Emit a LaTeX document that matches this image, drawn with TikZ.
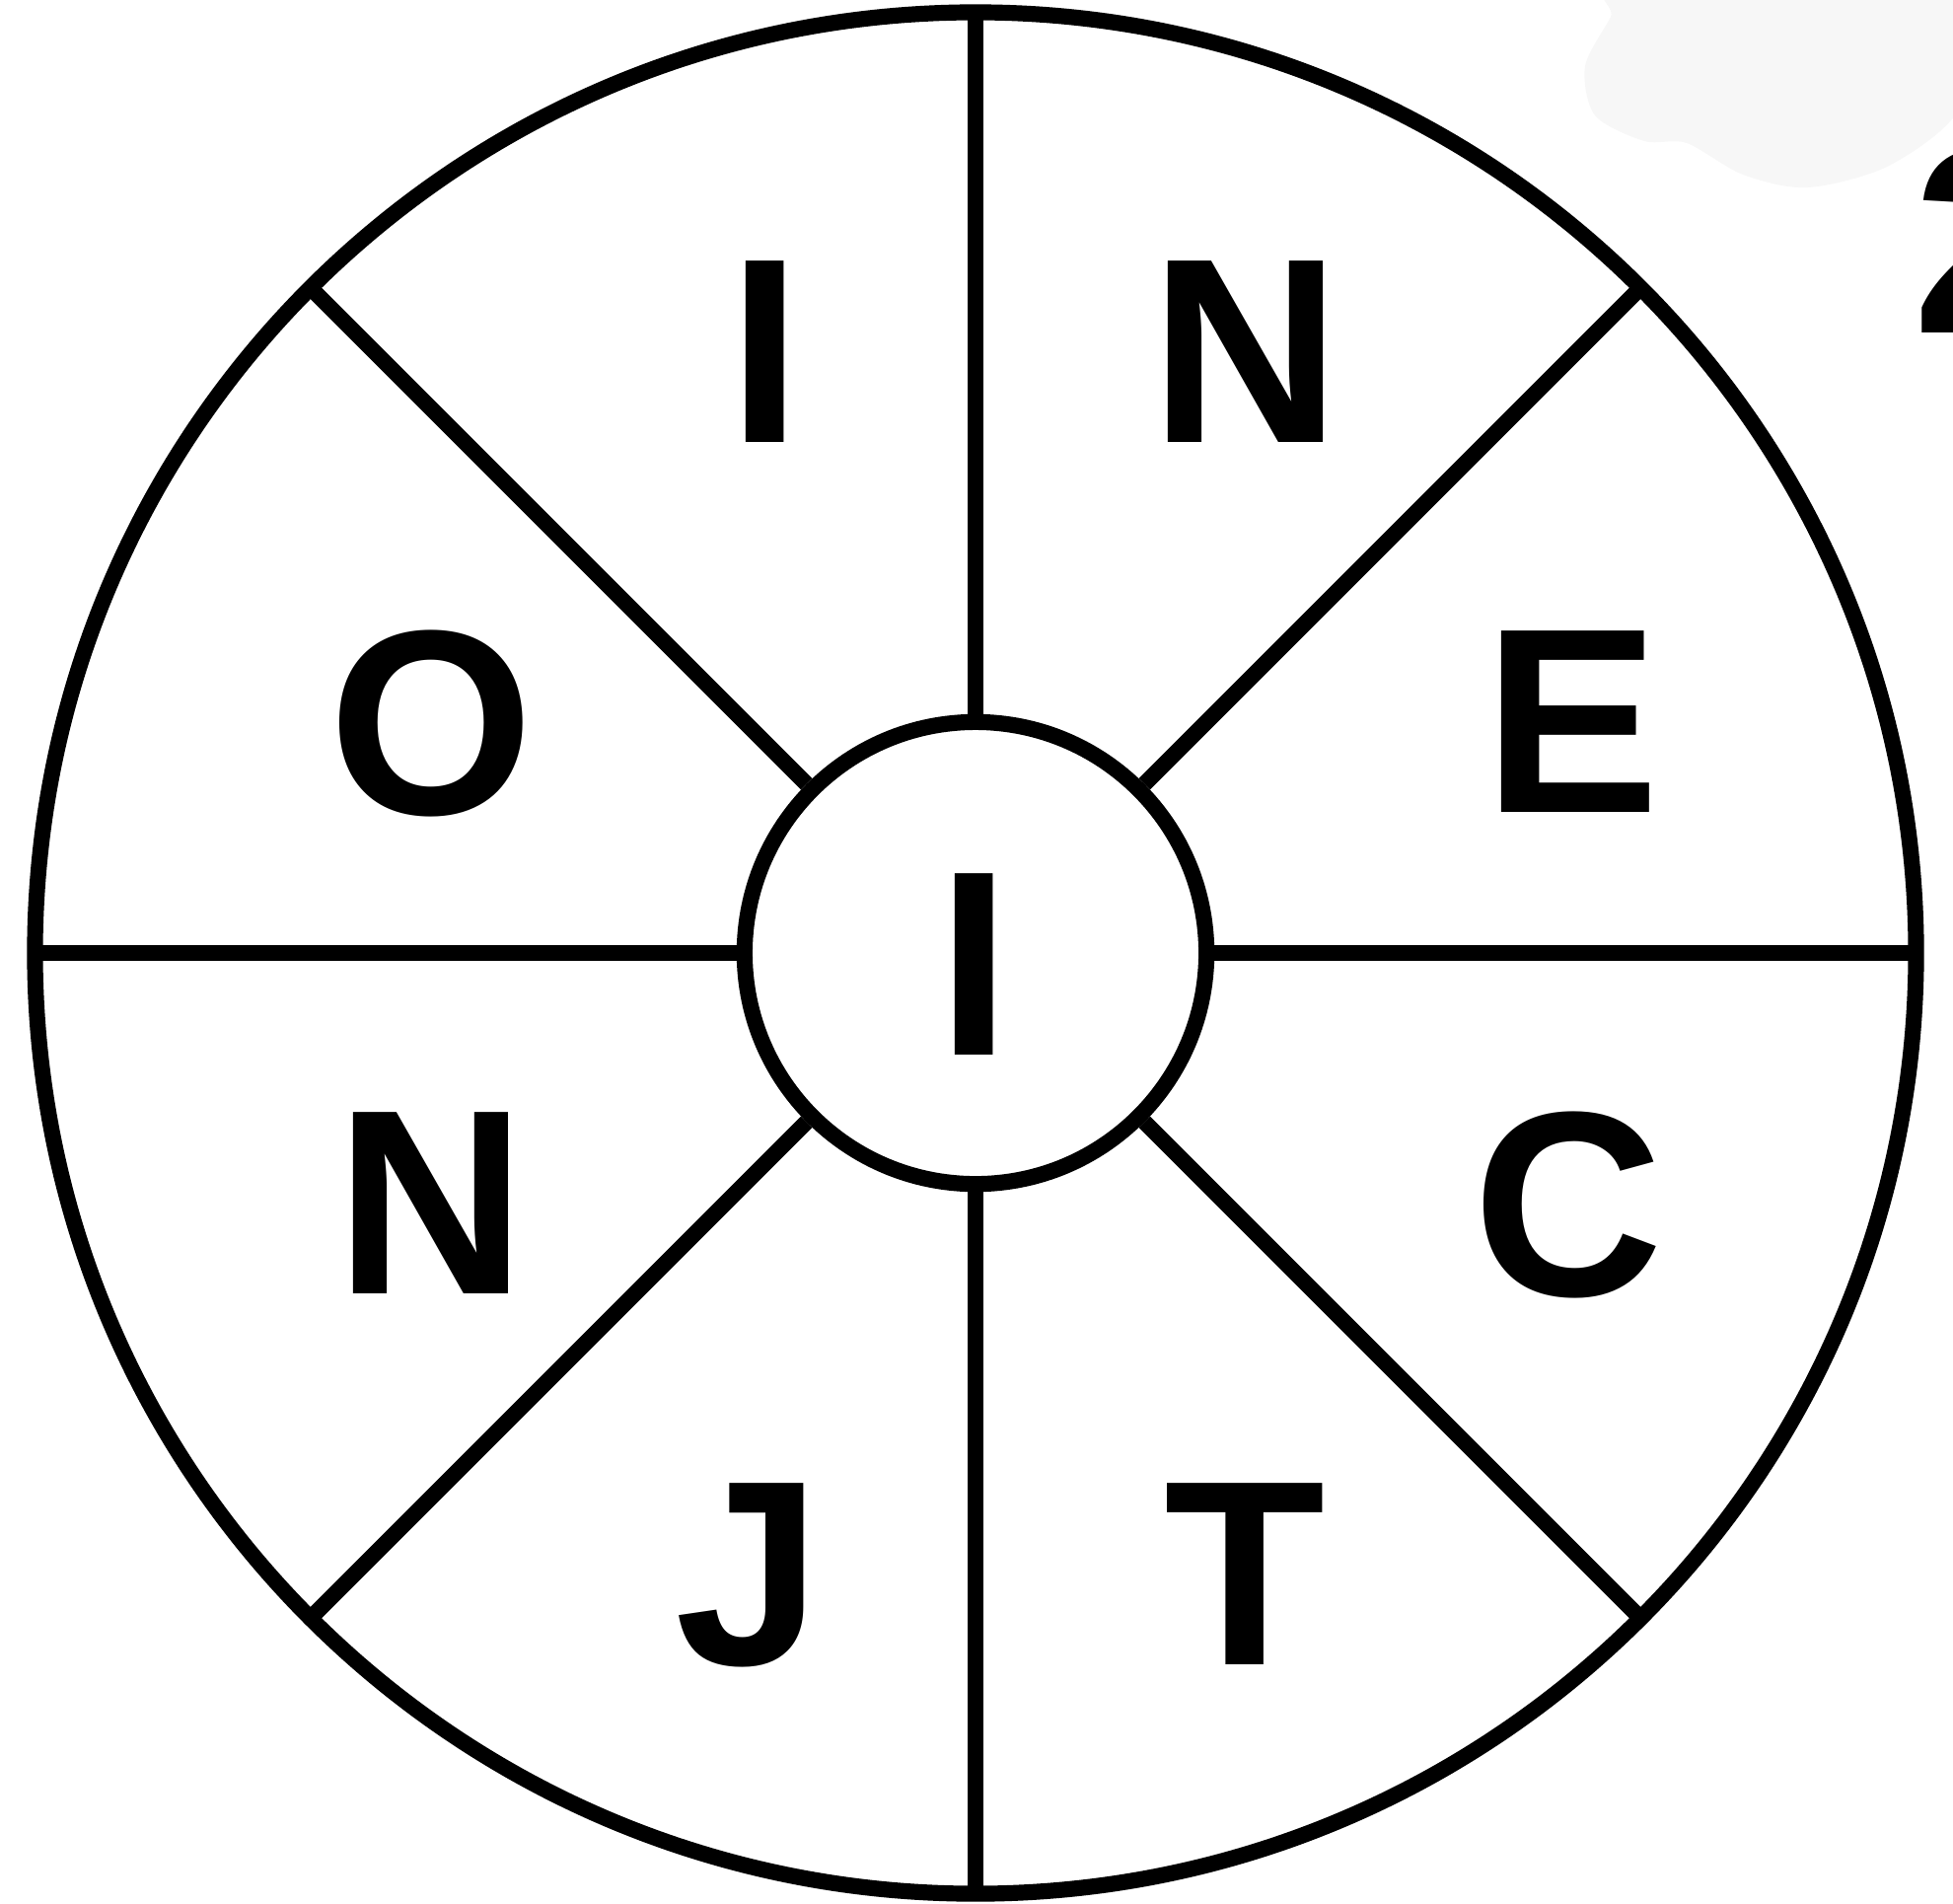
\documentclass[tikz,border=0pt]{standalone}
\usepackage{fontspec}
\setmainfont{Liberation Sans}
\usetikzlibrary{calc}

\begin{document}
\begin{tikzpicture}[
  x=0.01cm, y=-0.01cm,
  wheelline/.style={line width=4.6pt, black},
  hubcircle/.style={draw, circle, line width=4.6pt, minimum size=4.68cm, inner sep=0pt},
  letter/.style={font=\fontsize{76}{76}\selectfont\bfseries, inner sep=0pt},
]
\useasboundingbox (0,0) rectangle (1980,1929);

% faint smudge, top right
\fill[black!3] plot[smooth cycle] coordinates {(1650,-20) (1633,17) (1607,67) (1617,117) (1667,143) (1710,145) (1767,177) (1833,190) (1917,167) (1990,105) (2010,-20)};

% outer ring and hub
\draw[wheelline] (989,966) circle (9.53cm);
\node[hubcircle] (hub) at (989,966) {};

% spokes
\foreach \a in {0,45,...,315} {
  \draw[wheelline] (hub.\a) -- ($(hub.center)+(\a:9.53cm)$);
}

% letters
\node[letter] (ctr) at (988,978) {I};
\node[letter] (li)  at (776,357) {I};
\node[letter] (ln)  at (1263,357) {N};
\node[letter] (le)  at (1594,732) {E};
\node[letter] (lc)  at (1590,1221) {C};
\node[letter] (lt)  at (1262,1596) {T};
\node[letter] (lj)  at (759,1597) {J};
\node[letter] (lnw) at (437,1220) {N};
\node[letter] (lo)  at (437,733) {O};

% cut-off number at the right edge
\node[letter, anchor=base west] (num) at (1939,337) {2};

\end{tikzpicture}
\end{document}
